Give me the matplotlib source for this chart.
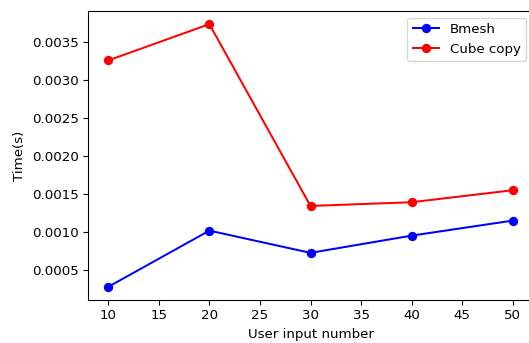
from matplotlib import pyplot as plt

user_input = [10, 20, 30, 40, 50]
bmesh_times = [0.000276, 0.001017, 0.000724, 0.000951, 0.001149]
cube_copy_times = [0.003259, 0.003737, 0.001342, 0.001391, 0.001549]

fig = plt.figure(figsize=(529 / 96, 343 / 96), dpi=96)
ax = fig.add_axes([88 / 529, 43 / 343, 445 / 529, 289 / 343])

ax.plot(user_input, bmesh_times, "o-", color="blue", label="Bmesh")
ax.plot(user_input, cube_copy_times, "o-", color="red", label="Cube copy")

ax.set_xlabel("User input number")
ax.set_ylabel("Time(s)")
ax.legend(loc="upper right")

fig.savefig("out.png", dpi=96)
